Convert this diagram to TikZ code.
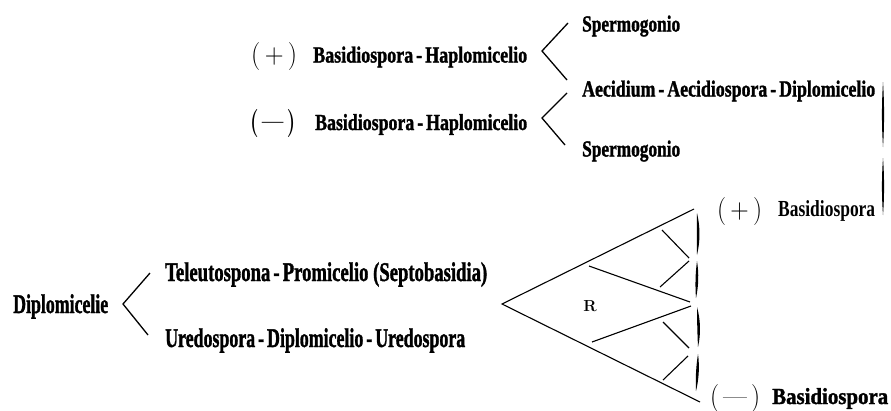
\documentclass[tikz,border=0pt]{standalone}
\usepackage{fontspec}
\newfontfamily\tf{Liberation Serif}
\newfontfamily\tfh{Liberation Serif}[FakeBold=1.6]
\usetikzlibrary{calc}
\newcommand\fitw[2]{\resizebox{#1pt}{\height}{#2}}
\newcommand\brkpiece[4]{%
  \fill (#1) .. controls ($(#1)!0.33!(#2)+(#3+#4,0)$) and ($(#1)!0.67!(#2)+(#3+#4,0)$) .. (#2)
        .. controls ($(#1)!0.67!(#2)+(#3-#4,0)$) and ($(#1)!0.33!(#2)+(#3-#4,0)$) .. (#1) -- cycle;}
\tikzset{
  lbl/.style={inner sep=0pt, anchor=base west},
  big/.style={lbl, font=\fontsize{23}{26}\selectfont\tfh\bfseries},
  bigreg/.style={lbl, font=\fontsize{23}{26}\selectfont\tf\bfseries},
  low/.style={lbl, font=\fontsize{27}{30}\selectfont\tfh\bfseries},
  sgn/.style={lbl, font=\fontsize{28}{30}\selectfont},
  sgnb/.style={lbl, font=\fontsize{28}{30}\selectfont\bfseries},
  ln/.style={line width=1.1pt},
  chev/.style={line width=1.3pt},
}
\begin{document}
\begin{tikzpicture}[x=1pt,y=-1pt]
\fill[white] (0,0) rectangle (891,410);
\useasboundingbox (0,0) rectangle (891,410);

% top block
\node[sgn] (p1) at (251,63) {\fitw{46}{(\,+\,)}};
\node[big] (h1) at (313,62.5) {\fitw{214}{Basidiospora\,-\,Haplomicelio}};
\node[sgnb] (m1) at (250,130) {\fitw{45}{(\,—\,)}};
\node[big] (h2) at (315,130) {\fitw{212}{Basidiospora\,-\,Haplomicelio}};

\coordinate (c1t) at (568,23);
\coordinate (c1a) at (542,51);
\coordinate (c1b) at (567,80);
\coordinate (c2t) at (567,93);
\coordinate (c2a) at (542,118);
\coordinate (c2b) at (565,145);
\draw[chev] (c1t) -- (c1a) -- (c1b);
\draw[chev] (c2t) -- (c2a) -- (c2b);

\node[big] (s1) at (582,31.5) {\fitw{98}{Spermogonio}};
\node[big] (ae) at (582,96.5) {\fitw{293}{Aecidium\,-\,Aecidiospora\,-\,Diplomicelio}};
\node[big] (s2) at (582,156.5) {\fitw{98}{Spermogonio}};

\coordinate (rb1t) at (883,82);
\coordinate (rb1b) at (883,147);
\coordinate (rb2t) at (883,158);
\coordinate (rb2b) at (883,215);
\brkpiece{rb1t}{rb1b}{0}{1.4}
\brkpiece{rb2t}{rb2b}{0}{1.4}

% right labels
\node[sgn] (p3) at (717,218) {\fitw{45}{(\,+\,)}};
\node[bigreg] (b3) at (778,216.5) {\fitw{97}{Basidiospora}};
\node[sgn] (m3) at (710,405) {\fitw{50}{(\,—\,)}};
\node[big] (b4) at (772,404) {\fitw{116}{Basidiospora}};

% lower left
\node[low] (dl) at (13,313) {\fitw{95}{Diplomicelie}};
\coordinate (c3t) at (150,273);
\coordinate (c3a) at (123,304);
\coordinate (c3b) at (148,335);
\draw[chev] (c3t) -- (c3a) -- (c3b);
\node[low] (te) at (165,281) {\fitw{322}{Teleutospona\,-\,Promicelio (Septobasidia)}};
\node[low] (ur) at (165,347) {\fitw{300}{Uredospora\,-\,Diplomicelio\,-\,Uredospora}};

% triangle
\coordinate (T0) at (502,304);
\coordinate (T1) at (694,209);
\coordinate (T2) at (700,402);
\coordinate (U1) at (589,266);
\coordinate (U2) at (690,302);
\coordinate (L1) at (592,342);
\coordinate (L2) at (691,306);
\draw[ln] (T1) -- (T0) -- (T2);
\draw[ln] (U1) -- (U2);
\draw[ln] (L1) -- (L2);
\node[inner sep=0pt, anchor=base, font=\fontsize{16}{18}\selectfont\bfseries] (r) at (590,311.5) {R};

\coordinate (a1) at (662,230);
\coordinate (a2) at (689,258);
\coordinate (b1) at (660,287);
\coordinate (b2) at (689,261);
\coordinate (d1) at (663,322);
\coordinate (d2) at (689,348);
\coordinate (e1) at (663,380);
\coordinate (e2) at (688,356);
\draw[ln] (a1) -- (a2);
\draw[ln] (b1) -- (b2);
\draw[ln] (d1) -- (d2);
\draw[ln] (e1) -- (e2);

\coordinate (k1t) at (697,213);
\coordinate (k1b) at (697,255);
\coordinate (k2t) at (697,261);
\coordinate (k2b) at (696,298);
\coordinate (k3t) at (697,307);
\coordinate (k3b) at (698,347);
\coordinate (k4t) at (698,354);
\coordinate (k4b) at (696,391);
\brkpiece{k1t}{k1b}{1.5}{1.8}
\brkpiece{k2t}{k2b}{0.5}{1.8}
\brkpiece{k3t}{k3b}{1.5}{1.8}
\brkpiece{k4t}{k4b}{0.5}{1.8}
\end{tikzpicture}
\end{document}
